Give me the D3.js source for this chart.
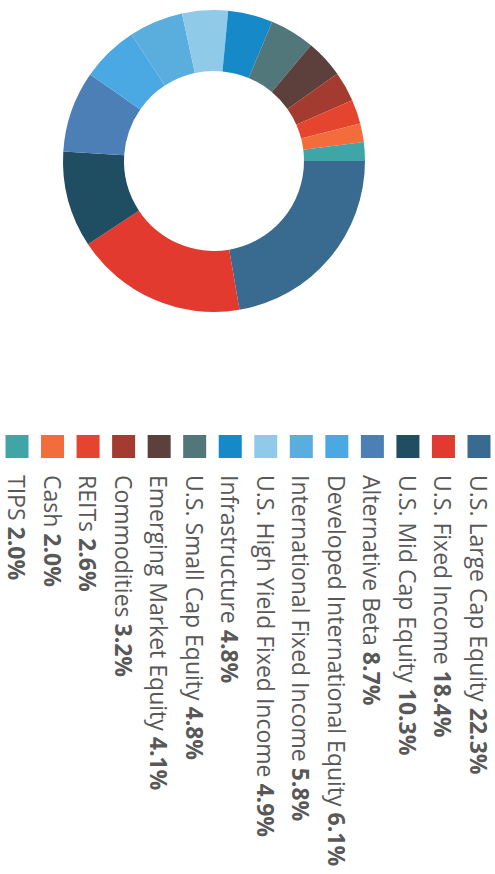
<!DOCTYPE html>
<html>
<head>
<meta charset="utf-8">
<script src="https://cdn.jsdelivr.net/npm/d3@7"></script>
<style>
  html, body { margin: 0; padding: 0; background: #fff; }
  svg { display: block; }
</style>
</head>
<body>
<svg id="chart" width="495" height="874"></svg>
<script>
const categories = [
  "U.S. Large Cap Equity", "U.S. Fixed Income", "U.S. Mid Cap Equity", "Alternative Beta",
  "Developed International Equity", "International Fixed Income", "U.S. High Yield Fixed Income",
  "Infrastructure", "U.S. Small Cap Equity", "Emerging Market Equity", "Commodities",
  "REITs", "Cash", "TIPS"
];
const values = [22.3, 18.4, 10.3, 8.7, 6.1, 5.8, 4.9, 4.8, 4.8, 4.1, 3.2, 2.6, 2.0, 2.0];
const colors = [
  "#386b8f", "#e23a2e", "#1f4d62", "#4c7fb6",
  "#4aa9e3", "#5aaede", "#8fcbe8",
  "#168ac9", "#52777b", "#5d403b", "#a33b30",
  "#e5452f", "#f36c3b", "#3fa5a7"
];
const valueLabels = values.map(v => v.toFixed(1) + "%");

const svg = d3.select("#chart");
const data = categories.map((c, i) => ({ name: c, value: values[i], color: colors[i], label: valueLabels[i] }));

// Donut (whole figure is turned a quarter turn clockwise)
const cx = 214, cy = 161, rOuter = 151, rInner = 90;
const pie = d3.pie().sort(null).value(d => d.value)
  .startAngle(Math.PI / 2).endAngle(Math.PI / 2 + 2 * Math.PI);
const arc = d3.arc().innerRadius(rInner).outerRadius(rOuter);
svg.append("g").attr("transform", `translate(${cx},${cy})`)
  .selectAll("path").data(pie(data)).join("path")
  .attr("d", arc).attr("fill", d => d.data.color);

// Legend (rotated columns)
const x = d3.scalePoint().domain(categories).range([479, 17]);
const sw = 23, swTop = 435, textTop = 475;
const items = svg.append("g").selectAll("g").data(data).join("g");
items.append("rect")
  .attr("x", d => x(d.name) - sw / 2).attr("y", swTop)
  .attr("width", sw).attr("height", sw).attr("fill", d => d.color);
const t = items.append("text")
  .attr("transform", d => `translate(${x(d.name) - 9},${textTop}) rotate(90)`)
  .attr("font-family", "'Open Sans', sans-serif").attr("font-size", 23)
  .attr("fill", "#585858");
t.append("tspan").text(d => d.name + " ");
t.append("tspan").attr("font-weight", "bold").text(d => d.label);
</script>
</body>
</html>
